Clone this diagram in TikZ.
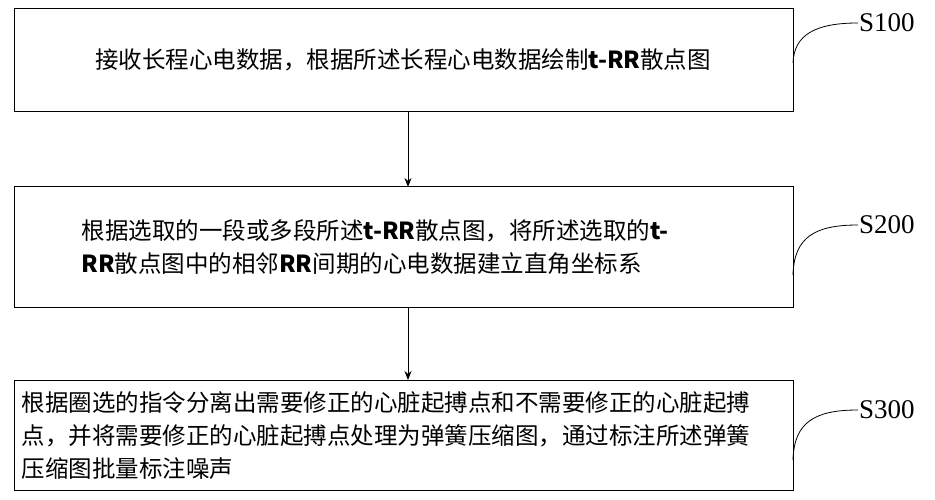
\documentclass[tikz,border=0pt]{standalone}
\usepackage{fontspec}
\setmainfont{Liberation Serif}
\newfontfamily\cjk{Noto Sans CJK SC}
\usetikzlibrary{arrows.meta}

\begin{document}
\begin{tikzpicture}[x=1pt, y=-1pt,
        every node/.style={font=\cjk\fontsize{23.5}{33}\selectfont},
        stepbox/.style={draw=black, line width=1pt},
        steplabel/.style={anchor=west, inner sep=1pt,
            font=\fontsize{27}{29}\selectfont}]
    \useasboundingbox (0,0) rectangle (935,500);
    % boxes
    \draw[stepbox] (14,9) rectangle (793,112);
    \draw[stepbox] (14,187) rectangle (793,307);
    \draw[stepbox] (14,380) rectangle (793,490);
    \node (t1) at (403,60) {接收长程心电数据，根据所述长程心电数据绘制\textbf{t-RR}散点图};
    \node[align=left, anchor=west] (t2) at (78,247)
        {根据选取的一段或多段所述\textbf{t-RR}散点图，将所述选取的\textbf{t-}\\
         \textbf{RR}散点图中的相邻\textbf{RR}间期的心电数据建立直角坐标系};
    \node[align=left, anchor=west] (t3) at (18,436)
        {根据圈选的指令分离出需要修正的心脏起搏点和不需要修正的心脏起搏\\
         点，并将需要修正的心脏起搏点处理为弹簧压缩图，通过标注所述弹簧\\
         压缩图批量标注噪声};
    % arrows
    \coordinate (b1) at (408,112);
    \coordinate (b2) at (408,187);
    \coordinate (b3) at (408,307);
    \coordinate (b4) at (408,380);
    \draw[-{Stealth[length=9pt,width=7pt]}, line width=0.8pt] (b1) -- (b2);
    \draw[-{Stealth[length=9pt,width=7pt]}, line width=0.8pt] (b3) -- (b4);
    % step labels
    \foreach \n/\ys/\ye in {S100/63/23, S200/275/225, S300/460/410}{
        \node[steplabel] (\n) at (858,\ye) {\n};
        \draw[line width=0.8pt] (793,\ys) .. controls (794,\ye+12) and (815,\ye) .. (\n.west);
    }
\end{tikzpicture}
\end{document}
